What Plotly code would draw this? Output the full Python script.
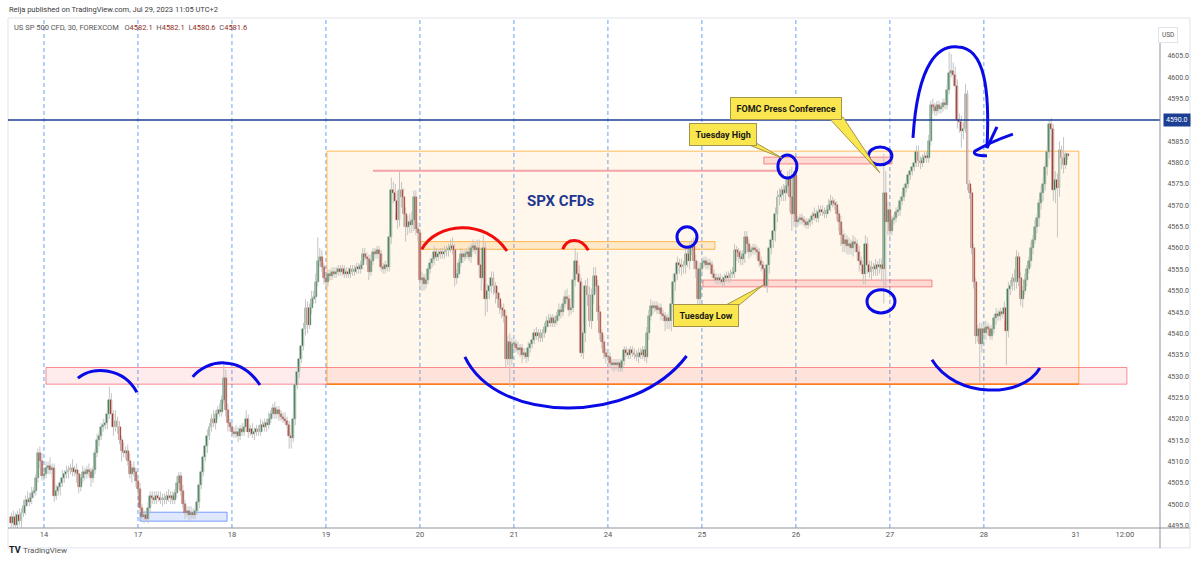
import plotly.graph_objects as go

# ---------------- data: US SP 500 CFD, 30-minute candles (closes per session day) ----------------
first_open = 4497.0

close_13 = [4495.5, 4497, 4495, 4497.5, 4496, 4498, 4499.5, 4501, 4500.5, 4501.5,
            4502.5, 4503, 4506, 4512, 4510, 4506.5]
close_14 = [4507, 4508.5, 4509, 4508, 4508.5, 4502, 4503, 4504, 4505, 4506,
            4507, 4507.5, 4508, 4508.5, 4507.5, 4508, 4507, 4504, 4506, 4507.5,
            4507, 4508, 4507.5, 4506, 4508, 4512, 4515, 4516, 4518, 4518.5,
            4519, 4521, 4524.5, 4521, 4518, 4519.5, 4518, 4515, 4512.5, 4512,
            4512.5, 4510, 4507, 4508.5, 4507.5, 4505.5]
close_17 = [4503.5, 4499, 4497, 4497.5, 4496.5, 4499, 4502, 4501.5, 4501, 4502,
            4501.5, 4501, 4501.5, 4501, 4502, 4501.5, 4502, 4501, 4502.5, 4505,
            4506.5, 4503, 4500, 4498, 4498.5, 4497.5, 4498, 4497.5, 4498.5, 4500.5,
            4504.5, 4507.5, 4511, 4513.5, 4516, 4518, 4520, 4519, 4521, 4522,
            4521.5, 4524.5, 4529.5, 4522, 4519, 4518]
close_18 = [4517, 4516.5, 4517, 4516, 4517.5, 4517, 4518, 4520, 4517, 4517.5,
            4516.5, 4517, 4517.5, 4517, 4518.5, 4518, 4519, 4518.5, 4520, 4521,
            4522.5, 4521, 4522, 4521, 4520.5, 4520, 4519.5, 4518.5, 4516, 4515.5,
            4520, 4528, 4531, 4534, 4537, 4541, 4546, 4542, 4546, 4548,
            4548.5, 4552, 4557, 4558, 4555.5, 4553]
close_19 = [4552, 4554, 4553.5, 4554.5, 4554, 4554.5, 4555, 4554.5, 4555, 4554,
            4554.5, 4554, 4555, 4554.5, 4555, 4555.5, 4555, 4556, 4558.5, 4558,
            4557.5, 4554.5, 4557, 4559, 4558.5, 4559.5, 4558.5, 4555.5, 4555, 4556,
            4555.5, 4562.5, 4573.5, 4573, 4571, 4566.5, 4573.5, 4572, 4568, 4565,
            4566, 4565.5, 4566.5, 4572, 4564.5, 4563.5]
close_20 = [4552.5, 4553, 4551.5, 4552.5, 4555, 4556.5, 4557.5, 4559, 4558, 4558.5,
            4559, 4558.5, 4559, 4559.5, 4560, 4560.5, 4559.5, 4553, 4554, 4556.5,
            4558.5, 4558, 4558.5, 4559, 4558, 4560, 4560.5, 4559.5, 4560, 4556,
            4553, 4560, 4548, 4550, 4551, 4553, 4551, 4549.5, 4548, 4546,
            4545.5, 4544, 4534, 4538, 4534, 4537.5]
close_21 = [4537.5, 4536.5, 4536, 4536.5, 4535, 4535.5, 4534.5, 4536.5, 4537.5, 4538.5,
            4540, 4539.5, 4540, 4539, 4540, 4541.5, 4543, 4542.5, 4543.5, 4542.5,
            4543, 4544, 4545.5, 4545, 4547, 4548.5, 4548, 4545.5, 4546, 4552.5,
            4557, 4554, 4552, 4535.5, 4540, 4551, 4549, 4543, 4549, 4553.5,
            4551, 4545, 4540, 4538, 4535.5, 4534.5]
close_24 = [4534.5, 4533, 4532.5, 4533, 4532.5, 4533, 4532, 4533.5, 4536, 4535.5,
            4535, 4536, 4535.5, 4535, 4534.5, 4535.5, 4535, 4536, 4534.5, 4540,
            4544, 4546.5, 4546, 4546.5, 4545.5, 4546, 4544.5, 4544, 4543, 4543.5,
            4543, 4547, 4552, 4554, 4556.5, 4556, 4555.5, 4556, 4558.5, 4557,
            4560, 4560.5, 4557, 4555, 4548, 4555]
close_25 = [4556.5, 4557, 4556, 4556.5, 4556, 4554, 4553, 4552.5, 4553, 4552.5,
            4552, 4553, 4553.5, 4553, 4554, 4554.5, 4559.5, 4559, 4558, 4557.5,
            4558.5, 4562.5, 4561, 4559, 4559.5, 4560, 4559.5, 4559, 4557, 4556,
            4555, 4551, 4556, 4560, 4562, 4564, 4568, 4572, 4572.5, 4573.5,
            4573, 4574.5, 4576.5, 4572, 4568, 4577]
close_26 = [4566, 4566.5, 4567, 4566.5, 4566, 4565.5, 4566, 4566.5, 4567.5, 4568,
            4567, 4568.5, 4569, 4568.5, 4568, 4569, 4570, 4571, 4570.5, 4570,
            4568, 4566, 4563, 4561, 4562, 4560.5, 4561, 4560, 4561.5, 4561,
            4559, 4557, 4556, 4554, 4561, 4556, 4554.5, 4555.5, 4555, 4556,
            4555.5, 4556, 4555, 4573, 4566, 4569]
close_27 = [4564, 4566.5, 4567, 4568.5, 4569, 4571, 4572, 4574, 4575, 4577,
            4578, 4579, 4580, 4582.5, 4580.5, 4580, 4581, 4581.5, 4581, 4585,
            4593.5, 4593, 4592, 4593.5, 4592.5, 4593, 4594, 4593.5, 4597, 4601,
            4601.5, 4600.5, 4598, 4590, 4589.5, 4587.5, 4588, 4596, 4575, 4573,
            4560, 4552, 4539.5, 4541, 4537.5, 4541]
close_28 = [4540, 4541.5, 4541, 4539.5, 4541, 4543.5, 4544.5, 4544, 4545, 4544.5,
            4546, 4540.5, 4550.5, 4551, 4553, 4552, 4558, 4553, 4548, 4550,
            4552.5, 4555, 4557, 4560, 4562, 4565, 4567, 4570.5, 4573, 4575,
            4579, 4582.5, 4589, 4588, 4573.5, 4576, 4574, 4583, 4581, 4579.5,
            4582.1, 4581.6]

# upper / lower wick length above / below the candle body (points)
wu_13 = [1, 1.5, 1, 1, 1.5, 1, 1.5, 1, 2, 1, 1.5, 1, 1, 1, 1.5, 2]
wd_13 = [1, 1, 0.5, 1, 1, 1.5, 1, 2, 1, 1, 1.5, 1, 1, 1, 1.5, 1]
wu_14 = [1, 1.5, 1, 2, 1, 1, 1.5, 1, 1, 2,
         1, 1.5, 1, 1, 2, 1, 1.5, 1, 1, 1.5,
         1, 1, 1.5, 1, 1, 1, 1.5, 1, 1, 1.5,
         1, 1.5, 3, 1.5, 1, 2.5, 1, 1.5, 1, 2,
         1, 1.5, 2, 1, 1.5, 1]
wd_14 = [1, 1, 1.5, 1, 2, 1.5, 1, 1, 2, 1,
         1, 1, 1.5, 1, 1, 1, 2, 1.5, 1, 1,
         1.5, 1, 1, 2, 1, 1, 1, 1.5, 1, 1,
         1, 1.5, 1, 1, 2, 1, 1.5, 1, 2.5, 1,
         1.5, 1, 1, 2, 1, 1.5]
wu_17 = [1, 1.5, 1, 1, 1, 1.5, 1, 1, 1.5, 1,
         1, 1.5, 1, 1, 1, 1.5, 1, 1, 1, 1.5,
         1, 1, 1.5, 1, 1, 1, 1.5, 1, 1, 1,
         1, 1.5, 1, 1, 1.5, 1, 1, 2, 1, 1,
         1.5, 1, 3.5, 2, 1.5, 1]
wd_17 = [1.5, 1, 1, 1.5, 0.5, 1, 1, 1.5, 1, 1,
         1, 1, 1.5, 1, 1, 1, 1.5, 1, 1, 1,
         1.5, 1, 1, 1.5, 1, 1.5, 1, 1, 1, 1,
         1.5, 1, 1, 1, 1.5, 1, 1, 1, 1.5, 1,
         1, 1, 1, 1.5, 2, 1]
wu_18 = [1, 1, 1.5, 1, 1, 1.5, 1, 2, 1, 1,
         1.5, 1, 1, 1, 1.5, 1, 1, 1, 1.5, 1,
         1, 1.5, 1, 1, 1, 1, 1.5, 1, 1, 1,
         1.5, 2, 1.5, 1, 2, 1.5, 2, 1.5, 1, 2,
         1.5, 2, 5.5, 2, 1.5, 1]
wd_18 = [1, 1, 1, 1.5, 1, 1, 1, 1, 1.5, 1,
         1, 1.5, 1, 1, 1, 1, 1, 1.5, 1, 1,
         1, 1, 1, 1.5, 1, 1, 1, 1, 3, 2.5,
         1, 1.5, 1, 1.5, 1, 1, 1.5, 2, 1, 1.5,
         1, 1.5, 1, 1.5, 1, 1.5]
wu_19 = [1, 1, 1, 1, 1, 1, 1, 1, 1, 1,
         1, 1, 1, 1, 1, 1, 1, 1, 1.5, 1.5,
         1, 1, 1.5, 1, 1, 1, 1, 1, 1, 1,
         1, 1.5, 3, 2, 2, 2.5, 4.5, 2, 2, 1.5,
         1.5, 2, 2, 1.5, 1.5, 1.5]
wd_19 = [1.5, 1, 1, 1, 1, 1, 1, 1, 1, 1,
         1, 1, 1, 1, 1, 1, 1, 1, 1, 1,
         1.5, 2, 1, 1, 1, 1, 1.5, 1, 1, 1,
         1, 1, 1.5, 2.5, 3, 2, 1.5, 2.5, 3, 3.5,
         2, 2, 2, 2.5, 1.5, 2]
wu_20 = [1, 1.5, 1, 1.5, 1, 1, 1, 1.5, 1, 1,
         1, 1, 1.5, 1, 1, 1.5, 2, 1.5, 1, 1,
         1.5, 1, 1, 1, 1.5, 1, 1.5, 1, 2, 2,
         1.5, 3, 1.5, 1.5, 2, 1.5, 1.5, 1, 1.5, 1.5,
         1, 1.5, 1.5, 1.5, 2, 1.5]
wd_20 = [2, 2.5, 1.5, 1, 1, 1, 1, 1.5, 1, 1,
         1, 1, 1, 1, 1.5, 1, 1, 2, 1.5, 1,
         1, 1.5, 1, 1, 1, 1.5, 1, 1, 1.5, 2.5,
         3, 1.5, 4, 3, 2, 1.5, 2, 2.5, 2, 1.5,
         2, 1.5, 2, 1.5, 6.5, 1.5]
wu_21 = [1, 1, 1.5, 1, 1, 1, 1, 1.5, 1, 1,
         1, 1.5, 1, 1, 1, 1, 1, 1.5, 1, 1,
         1, 1, 1.5, 1, 1, 1.5, 2, 1, 1.5, 2,
         3, 2, 2, 1, 2.5, 1.5, 2, 2, 1.5, 2,
         2, 1.5, 1.5, 1, 1.5, 1]
wd_21 = [1.5, 1, 1, 1.5, 2, 1, 1.5, 1, 1, 1,
         1, 1, 1.5, 1, 1, 1, 1, 1, 1, 1,
         1, 1, 1, 1.5, 1, 1, 1, 1.5, 1, 1,
         1.5, 1, 2, 1, 1.5, 2, 2.5, 1.5, 2, 2,
         1.5, 2, 1.5, 1.5, 1.5, 1.5]
wu_24 = [1, 1, 1, 1, 1, 1, 1, 1, 1, 1,
         1, 1, 1, 1, 1, 1, 1, 1, 1, 1.5,
         1.5, 1.5, 1, 1, 1, 1, 1, 1, 1, 1,
         1.5, 1.5, 2, 1.5, 1.5, 1, 1.5, 1, 1.5, 1.5,
         1.5, 1.5, 2, 1.5, 2, 1.5]
wd_24 = [1, 1, 1, 1.5, 1, 1.5, 1, 1, 1, 1,
         1, 1, 1, 1, 1, 1.5, 1, 1, 1, 1.5,
         1.5, 1, 1.5, 1, 1, 1, 1.5, 1, 2.5, 2,
         2, 2.5, 2, 2, 1.5, 2, 2, 1.5, 2, 1.5,
         2, 1.5, 2, 2, 1.5, 2]
wu_25 = [1, 1, 1, 1, 1, 1, 1, 1, 1, 1,
         1, 1, 1, 1, 1, 1, 1.5, 1, 1, 1.5,
         1, 1.5, 1.5, 1, 1, 1, 1, 1, 1, 1,
         1, 1, 1.5, 1.5, 1, 1.5, 1.5, 1.5, 1.5, 1,
         1.5, 1.5, 1.5, 2, 7, 1]
wd_25 = [1, 1, 1, 1, 1, 1, 1, 1, 1, 1,
         1, 1, 1, 1, 1, 1, 1.5, 2, 1.5, 1.5,
         1.5, 2, 2, 1.5, 1, 1, 1, 1.5, 1.5, 1.5,
         1.5, 0.3, 1.5, 2, 1.5, 2, 2.5, 2, 2, 1.5,
         2, 2, 2, 3.5, 4, 3]
wu_26 = [1, 1, 1, 1, 1, 1, 1, 1, 1, 1.5,
         1, 1.5, 1, 1, 1, 1, 1.5, 1.5, 1, 1,
         1, 1, 1.5, 1.5, 1.5, 1, 1.5, 1, 1.5, 1,
         1, 1.5, 1, 1.5, 2, 1.5, 1, 1.5, 1, 1.5,
         1, 1.5, 1.5, 9, 5, 2]
wd_26 = [1.5, 1, 1, 1, 1, 1, 1, 1, 1, 1,
         1, 1, 1, 1, 1, 1, 1, 1.5, 1, 1,
         1.5, 2, 2.5, 2, 2, 2, 2, 1.5, 2, 2,
         2, 2.5, 2, 2.5, 2.5, 2, 1.5, 2, 1.5, 1.5,
         2, 1.5, 3, 8, 16, 3]
wu_27 = [1, 1, 1, 1, 1, 1, 1, 1, 1, 1,
         1, 1, 1, 1.5, 1.5, 1, 1, 1, 1, 1.5,
         1, 1.5, 1, 1, 1, 1, 1, 1, 1.5, 5,
         4, 2, 2, 1.5, 1.5, 1.5, 1.5, 2.5, 1, 1,
         1, 1, 1, 1, 1.5, 1.5]
wd_27 = [1.5, 1, 1, 1, 1, 1.5, 1, 1, 1, 1,
         1, 1, 1, 1, 1.5, 1.5, 1, 1, 1, 1,
         1, 1.5, 1, 1, 1, 1, 1, 1, 1, 1,
         1, 1.5, 1.5, 2, 2.5, 4, 2, 1, 1.5, 1.5,
         1.5, 1.5, 2, 1.5, 9, 2]
wu_28 = [1, 1.5, 1, 1, 1, 1, 1.5, 1, 1, 1,
         1.5, 1, 1.5, 1.5, 1, 2, 1.5, 1, 1.5, 1,
         1.5, 1, 1, 1.5, 1, 1.5, 1, 1, 1.5, 1.5,
         1, 1.5, 1, 1.5, 1, 2, 1.5, 2, 1, 5,
         0.5, 0]
wd_28 = [2, 1.5, 1.5, 1, 1, 1, 1.5, 1, 1, 1,
         1.5, 8, 1.5, 1.5, 1, 2, 1.5, 2, 1.5, 2,
         1, 1.5, 1, 1.5, 1.5, 1, 1.5, 2, 1.5, 2,
         1.5, 2, 1.5, 2, 2.5, 3, 11.5, 2, 2.5, 2,
         1, 1]

day_closes = [close_13, close_14, close_17, close_18, close_19, close_20,
              close_21, close_24, close_25, close_26, close_27, close_28]
day_wu = [wu_13, wu_14, wu_17, wu_18, wu_19, wu_20, wu_21, wu_24, wu_25, wu_26, wu_27, wu_28]
day_wd = [wd_13, wd_14, wd_17, wd_18, wd_19, wd_20, wd_21, wd_24, wd_25, wd_26, wd_27, wd_28]

tick_labels = ["14", "17", "18", "19", "20", "21", "24", "25", "26", "27", "28", "31", "12:00"]

# ---------------- build candles ----------------
for c, u, d in zip(day_closes, day_wu, day_wd):
    assert len(c) == len(u) == len(d), (len(c), len(u), len(d))

closes, wups, wdns, day_starts = [], [], [], []
for c, u, d in zip(day_closes, day_wu, day_wd):
    day_starts.append(len(closes))
    closes += c
    wups += u
    wdns += d

n = len(closes)
idx = list(range(n))
opens = [first_open] + closes[:-1]
highs = [max(o, c) + u for o, c, u in zip(opens, closes, wups)]
lows = [min(o, c) - d for o, c, d in zip(opens, closes, wdns)]

UP, DN, WICK = "#33794a", "#a32c1c", "#c4c4c4"
body_base = [min(o, c) for o, c in zip(opens, closes)]
body_h = [max(abs(c - o), 0.3) for o, c in zip(opens, closes)]
body_col = [UP if c >= o else DN for o, c in zip(opens, closes)]

wx, wy = [], []
for i in idx:
    wx += [i, i, None]
    wy += [lows[i], highs[i], None]

fig = go.Figure()
fig.add_trace(go.Scatter(x=wx, y=wy, mode="lines", line=dict(color=WICK, width=1),
                         hoverinfo="skip", showlegend=False))
fig.add_trace(go.Bar(x=idx, y=body_h, base=body_base, width=0.95,
                     marker=dict(color=body_col, line=dict(color=body_col, width=0.4)),
                     hoverinfo="skip", showlegend=False))

# tick positions: first bar of each day, then Monday 31 and its midday
last_start = day_starts[-1]
tick_pos = day_starts[1:] + [last_start + 45, last_start + 69]

# ---------------- shapes ----------------
shapes = []
# session separators
for s in day_starts[1:]:
    shapes.append(dict(type="line", xref="x", yref="paper", x0=s, x1=s, y0=0, y1=1,
                       line=dict(color="#6aa2f2", width=1, dash="4px,3px"), layer="below"))

PINK_F, PINK_L = "rgba(242,54,69,0.10)", "rgba(242,54,69,0.55)"
ORNG_F, ORNG_L = "rgba(255,152,0,0.08)", "rgba(255,152,0,0.65)"
# big range box
shapes.append(dict(type="rect", xref="x", yref="y", x0=154.5, x1=522.5, y0=4528.1, y1=4582.7,
                   fillcolor=ORNG_F, line=dict(color=ORNG_L, width=1), layer="below"))
# support band
shapes.append(dict(type="rect", xref="x", yref="y", x0=17.0, x1=546.0, y0=4528.1, y1=4532.0,
                   fillcolor=PINK_F, line=dict(color=PINK_L, width=1), layer="below"))
shapes.append(dict(type="line", xref="x", yref="y", x0=154.5, x1=522.5, y0=4528.1, y1=4528.1,
                   line=dict(color="#ff7a1a", width=1.5), layer="below"))
# thin resistance line
shapes.append(dict(type="line", xref="x", yref="y", x0=177.0, x1=377.2, y0=4578.1, y1=4578.1,
                   line=dict(color="#f5a3a8", width=2), layer="below"))
# small orange zone
shapes.append(dict(type="rect", xref="x", yref="y", x0=200.0, x1=344.4, y0=4559.7, y1=4561.5,
                   fillcolor="rgba(255,152,0,0.15)", line=dict(color=ORNG_L, width=1), layer="below"))
# Tuesday low / high zones
shapes.append(dict(type="rect", xref="x", yref="y", x0=338.5, x1=450.6, y0=4550.9, y1=4552.5,
                   fillcolor="rgba(242,54,69,0.15)", line=dict(color=PINK_L, width=1), layer="below"))
shapes.append(dict(type="rect", xref="x", yref="y", x0=368.3, x1=431.0, y0=4579.7, y1=4581.3,
                   fillcolor="rgba(242,54,69,0.15)", line=dict(color=PINK_L, width=1), layer="below"))
# blue box at lows
shapes.append(dict(type="rect", xref="x", yref="y", x0=63.0, x1=105.6, y0=4496.0, y1=4498.1,
                   fillcolor="rgba(41,98,255,0.15)", line=dict(color="rgba(41,98,255,0.6)", width=1),
                   layer="below"))
# 4590 horizontal line
shapes.append(dict(type="line", xref="paper", yref="y", x0=0, x1=1, y0=4590, y1=4590,
                   line=dict(color="#1c3f94", width=1.5), layer="above"))

# hand-drawn marks
BLUE, RED = "#0a0ae6", "#f20d0d"
def pen(path, color=BLUE):
    return dict(type="path", xref="x", yref="y", path=path,
                line=dict(color=color, width=3), layer="above")

shapes += [
    pen("M32.6,4529.5 C40,4532.5 55,4532 61.5,4526.2"),
    pen("M88.8,4529.8 C96,4534 112,4535 121.7,4527.9"),
    pen("M222,4534.5 C238,4518.5 305,4518.5 330.5,4534.7"),
    pen("M441.3,4585.8 C443.7,4604.1 454.5,4607.6 463.3,4607.1 C476.5,4606.9 479.0,4597.0 477.5,4583.4"),
    pen("M482.4,4588.4 L477.5,4583.4"),
    pen("M490.2,4586.7 Q478.9,4584.8 471.6,4582.7 Q470.1,4581.6 477.5,4581.6"),
    pen("M450.6,4533.8 C462,4524.7 495,4524.7 503.4,4531.9"),
    pen("M200.9,4559.7 C208,4566 232,4567 242.6,4559.3", RED),
    pen("M269.9,4559.7 C272,4562.5 279,4562.5 282.4,4559.5", RED),
]
for (x0, x1, y0, y1) in [(325.8, 335.6, 4560.2, 4565.0), (375.2, 384.5, 4576.4, 4581.8),
                         (419.5, 431.0, 4579.5, 4583.7), (418.8, 432.5, 4544.8, 4550.2)]:
    shapes.append(dict(type="circle", xref="x", yref="y", x0=x0, x1=x1, y0=y0, y1=y1,
                       line=dict(color=BLUE, width=3), layer="above"))

# callout tails
YEL, YEL_L = "#fae64e", "#a39548"
for path in ["M357.6,4584.8 L363.9,4584.8 L377.2,4581.1 Z",
             "M399.7,4590.7 L407.0,4590.7 L425.1,4577.6 Z",
             "M348.8,4546.4 L355.6,4546.4 L367.9,4551.3 Z"]:
    shapes.append(dict(type="path", xref="x", yref="y", path=path, fillcolor=YEL,
                       line=dict(color=YEL_L, width=1), layer="above"))

# frame and axis lines
shapes.append(dict(type="rect", xref="paper", yref="paper", x0=0, x1=1.026, y0=-0.039, y1=1.0,
                   line=dict(color="#e0e3eb", width=1), layer="below"))
shapes.append(dict(type="line", xref="paper", yref="paper", x0=0, x1=1.026, y0=0, y1=0,
                   line=dict(color="#8f939c", width=1)))
shapes.append(dict(type="line", xref="paper", yref="paper", x0=1, x1=1, y0=-0.039, y1=0.963,
                   line=dict(color="#8f939c", width=1)))

# ---------------- annotations ----------------
FONT = "Roboto, Arial, sans-serif"
annotations = [
    dict(text="Relja published on TradingView.com, Jul 29, 2023 11:05 UTC+2", xref="paper", yref="paper",
         x=-0.001, y=1.0157, xanchor="left", yanchor="middle", showarrow=False,
         font=dict(size=7.5, color="#3c3c3c")),
    dict(text="US SP 500 CFD, 30, FOREXCOM\u00a0\u00a0 O<span style='color:#922d22'>4582.1</span>"
              "\u00a0 H<span style='color:#922d22'>4582.1</span>\u00a0 L<span style='color:#922d22'>4580.6</span>"
              "\u00a0 C<span style='color:#922d22'>4581.6</span>",
         xref="paper", yref="paper", x=0.0035, y=0.982, xanchor="left", yanchor="middle",
         showarrow=False, font=dict(size=7.5, color="#555")),
    dict(text="USD", xref="paper", yref="paper", x=1.0156, y=0.982, showarrow=False,
         bordercolor="#e0e3eb", borderwidth=1, borderpad=3, bgcolor="white",
         font=dict(size=6.5, color="#555")),
    dict(text="4590.0", xref="paper", yref="y", x=1.0026, y=4590, xanchor="left", showarrow=False,
         bgcolor="#1c3f94", borderpad=2, font=dict(size=7, color="white")),
    dict(text="<b>TV</b>", xref="paper", yref="paper", x=-0.001, y=-0.057, xanchor="left",
         showarrow=False, font=dict(size=9, color="#131722")),
    dict(text="TradingView", xref="paper", yref="paper", x=0.0115, y=-0.057, xanchor="left",
         showarrow=False, font=dict(size=8, color="#555")),
    dict(text="<b>SPX CFDs</b>", xref="x", yref="y", x=269.0, y=4571.0, showarrow=False,
         font=dict(size=15, color="#22378f")),
]
for txt, x, y in [("Tuesday High", 348.3, 4586.7), ("FOMC Press Conference", 379.4, 4592.8),
                  ("Tuesday Low", 340.0, 4544.3)]:
    annotations.append(dict(text="<b>%s</b>" % txt, xref="x", yref="y", x=x, y=y, showarrow=False,
                            bgcolor=YEL, bordercolor=YEL_L, borderwidth=1, borderpad=5.5,
                            font=dict(size=9, color="#1a1a1a")))

y_ticks = list(range(4495, 4610, 5))

fig.update_layout(
    width=1200, height=568, margin=dict(l=8, r=40, t=18, b=40),
    paper_bgcolor="white", plot_bgcolor="white", showlegend=False, bargap=0,
    font=dict(family=FONT),
    shapes=shapes, annotations=annotations,
    xaxis=dict(range=[-1.6, 562.2], showgrid=False, zeroline=False, showline=False,
               tickvals=tick_pos, ticktext=tick_labels, ticks="",
               tickfont=dict(size=7.5, color="#555")),
    yaxis=dict(side="right", range=[4494.4, 4613.9], showgrid=False, zeroline=False, showline=False,
               tickvals=y_ticks, ticktext=["%.1f" % v for v in y_ticks],
               ticks="outside", ticklen=5, tickcolor="rgba(0,0,0,0)",
               tickfont=dict(size=7, color="#555")),
)

fig.write_html("out.html")
